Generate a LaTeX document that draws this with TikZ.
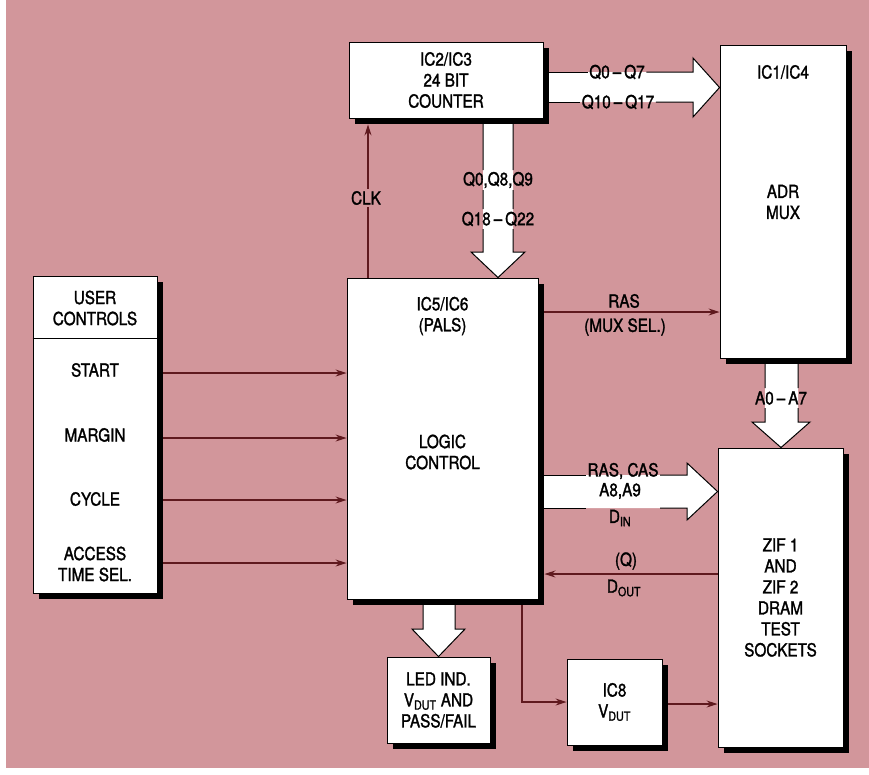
\documentclass[tikz,border=0pt]{standalone}
\usepackage{fontspec}
\setmainfont{TeX Gyre Heros}[FakeStretch=0.85,FakeBold=1.5]
\usetikzlibrary{arrows.meta}
\definecolor{bg}{RGB}{210,150,155}
\definecolor{wire}{RGB}{95,25,30}
\begin{document}
\begin{tikzpicture}[x=1pt,y=-1pt,
  box/.style={draw=black, line width=0.9pt, fill=white,
    preaction={fill=black, transform canvas={xshift=6pt, yshift=-6pt}},
    inner sep=0pt, align=center, font=\fontsize{18}{21}\selectfont},
  txt/.style={font=\fontsize{18}{21}\selectfont, align=center, inner sep=1.5pt},
  wireA/.style={draw=wire, line width=1.2pt, -{Stealth[length=11pt,width=7pt]}},
  fatline/.style={draw=black, line width=1pt, line join=miter}]

\fill[white] (0,0) rectangle (869,774);
\fill[bg] (6,0) rectangle (869,768);
\useasboundingbox (0,0) rectangle (869,774);

% boxes
\node[box, minimum width=194pt, minimum height=76pt] (cnt) at (446,80) {IC2/IC3\\24 BIT\\COUNTER};
\node[box, minimum width=126pt, minimum height=313pt] (mux) at (783,201.5) {};
\node[box, minimum width=124pt, minimum height=317pt] (user) at (95,434.5) {};
\node[box, minimum width=191pt, minimum height=321pt] (logic) at (442.5,438.5) {};
\node[box, minimum width=125pt, minimum height=299pt] (zif) at (780.5,597.5) {ZIF 1\\AND\\ZIF 2\\DRAM\\TEST\\SOCKETS};
\node[box, minimum width=103pt, minimum height=86pt] (led) at (438.5,700) {LED IND.\\V\textsubscript{DUT} AND\\PASS/FAIL};
\node[box, minimum width=95pt, minimum height=86pt] (ic8) at (614.5,702) {IC8\\V\textsubscript{DUT}};

% texts inside boxes
\node[txt] (muxa) at (783,72) {IC1/IC4};
\node[txt] (muxb) at (783,202) {ADR\\MUX};
\node[txt] (loga) at (442.5,316) {IC5/IC6\\(PALS)};
\node[txt] (logb) at (442.5,452) {LOGIC\\CONTROL};
\node[txt] (usr) at (95,308) {USER\\CONTROLS};
\draw[line width=0.9pt] (user.west |- 0,338) -- (user.east |- 0,338);
\node[txt] (start) at (95,370) {START};
\node[txt] (margin) at (95,435) {MARGIN};
\node[txt] (cycle) at (95,499) {CYCLE};
\node[txt] (access) at (95,564) {ACCESS\\TIME SEL.};

% fat arrow counter -> mux
\fill[white] (549,72) -- (693,72) -- (693,58) -- (mux.west |- 0,87.5) -- (693,117) -- (693,102) -- (549,102) -- cycle;
\node[txt] (q07) at (617,72) {Q0\,--\,Q7};
\node[txt] (q1017) at (618,102) {Q10\,--\,Q17};
\draw[fatline] (549,72) -- (q07.west);
\draw[fatline] (q07.east) -- (693,72) -- (693,58) -- (mux.west |- 0,87.5) -- (693,117) -- (693,102) -- (q1017.east);
\draw[fatline] (q1017.west) -- (549,102);

% fat arrow counter -> logic
\fill[white] (483,124) -- (483,252) -- (471,252) -- (logic.north -| 498,0) -- (525,252) -- (513,252) -- (513,124) -- cycle;
\node[txt] (q089) at (498,180) {Q0,Q8,Q9};
\node[txt] (q1822) at (498,219) {Q18\,--\,Q22};
\draw[fatline] (483,124) -- (483,170) (483,190) -- (483,209) (483,229) -- (483,252) -- (471,252) -- (logic.north -| 498,0) -- (525,252) -- (513,252) -- (513,229) (513,209) -- (513,190) (513,170) -- (513,124);

% fat arrow mux -> zif
\fill[white] (765,364) -- (765,422) -- (752,422) -- (zif.north -| 781,0) -- (810,422) -- (798,422) -- (798,364) -- cycle;
\node[txt] (a07) at (781,398) {A0\,--\,A7};
\draw[fatline] (765,364) -- (765,388) (765,408) -- (765,422) -- (752,422) -- (zif.north -| 781,0) -- (810,422) -- (798,422) -- (798,408) (798,388) -- (798,364);

% fat arrow logic -> zif
\fill[white] (544,475) -- (687,475) -- (687,463) -- (zif.west |- 0,491.5) -- (687,520) -- (687,508) -- (544,508) -- cycle;
\node[txt] (rascas) at (623,471) {RAS, CAS};
\node[txt] (a89) at (620,491) {A8,A9};
\node[txt] (din) at (620,518) {D\textsubscript{IN}};
\draw[fatline] (544,475) -- (rascas.west |- 0,475);
\draw[fatline] (rascas.east |- 0,475) -- (687,475) -- (687,463) -- (zif.west |- 0,491.5) -- (687,520) -- (687,508) -- (rascas.east |- 0,508);
\draw[fatline] (rascas.west |- 0,508) -- (544,508);

% fat arrow logic -> led
\fill[white] (423,605) -- (423,629) -- (412,629) -- (led.north) -- (465,629) -- (455,629) -- (455,605) -- cycle;
\draw[fatline] (423,605) -- (423,629) -- (412,629) -- (led.north) -- (465,629) -- (455,629) -- (455,605);

% thin connectors
\draw[wireA] (logic.north -| 368,0) -- ([yshift=-6pt]cnt.south -| 368,0);
\node[txt, fill=bg, inner sep=2pt] (clk) at (366,198) {CLK};
\draw[wireA] ([xshift=6pt]user.east |- 0,373) -- (logic.west |- 0,373);
\draw[wireA] ([xshift=6pt]user.east |- 0,438) -- (logic.west |- 0,438);
\draw[wireA] ([xshift=6pt]user.east |- 0,500) -- (logic.west |- 0,500);
\draw[wireA] ([xshift=6pt]user.east |- 0,563) -- (logic.west |- 0,563);
\draw[wireA] ([xshift=6pt]logic.east |- 0,312) -- (mux.west |- 0,312);
\node[txt] (ras) at (624,301) {RAS};
\node[txt] (muxsel) at (625,327) {(MUX SEL.)};
\draw[wireA] (zif.west |- 0,574) -- ([xshift=6pt]logic.east |- 0,574);
\node[txt] (q) at (626,561) {(Q)};
\node[txt] (dout) at (624,588) {D\textsubscript{OUT}};
\draw[wireA] ([yshift=-6pt]logic.south -| 522,0) -- (522,702) -- (ic8.west |- 0,702);
\draw[wireA] ([xshift=6pt]ic8.east |- 0,704) -- (zif.west |- 0,704);
\end{tikzpicture}
\end{document}
